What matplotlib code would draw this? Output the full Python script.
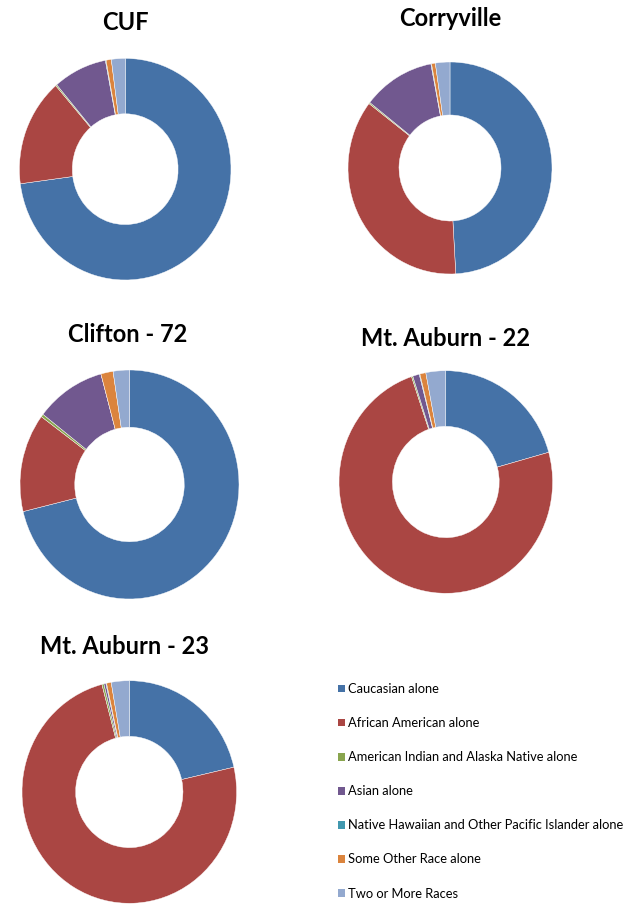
import matplotlib
matplotlib.use('Agg')
import matplotlib.pyplot as plt
from matplotlib.patches import Patch

# race categories (legend order)
races = ['Caucasian alone',
         'African American alone',
         'American Indian and Alaska Native alone',
         'Asian alone',
         'Native Hawaiian and Other Pacific Islander alone',
         'Some Other Race alone',
         'Two or More Races']
colors = ['#4572A7', '#AA4643', '#89A54E', '#71588F', '#4198AF', '#DB843D', '#93A9CF']

# percent share per area
cuf = [72.9, 15.7, 0.2, 8.2, 0.1, 0.8, 2.1]
corryville = [49.1, 36.3, 0.2, 11.4, 0.1, 0.6, 2.3]
clifton_72 = [71.2, 13.9, 0.4, 10.3, 0.0, 1.8, 2.4]
mt_auburn_22 = [20.7, 74.1, 0.2, 1.0, 0.1, 0.9, 3.0]
mt_auburn_23 = [21.4, 74.4, 0.3, 0.3, 0.1, 0.7, 2.7]

titles = ['CUF', 'Corryville', 'Clifton - 72', 'Mt. Auburn - 22', 'Mt. Auburn - 23']
series = [cuf, corryville, clifton_72, mt_auburn_22, mt_auburn_23]

W, H = 631, 906
fig = plt.figure(figsize=(W / 100, H / 100), dpi=100)

# donut centre x, y, half-width, half-height, title x, y (pixels from top-left)
# the original is slightly stretched vertically
layout = [(125.2, 169.2, 105.8, 110.8, 125, 23),
          (450, 168, 102, 106, 450, 18),
          (129.5, 484.5, 109.5, 114.5, 128, 335),
          (445.8, 482, 106.8, 111.3, 446, 338),
          (129.3, 792, 107.3, 111.3, 125, 647)]

for vals, title, (cx, cy, rx, ry, tx, ty) in zip(series, titles, layout):
    ax = fig.add_axes([(cx - rx) / W, (H - cy - ry) / H, 2 * rx / W, 2 * ry / H])
    ax.pie(vals, colors=colors, startangle=90, counterclock=False, radius=1,
           wedgeprops=dict(width=0.5, edgecolor='white', linewidth=0.3))
    ax.set_xlim(-1, 1)
    ax.set_ylim(-1, 1)
    ax.set_aspect('auto')
    ax.axis('off')
    fig.text(tx / W, 1 - ty / H, title, ha='center', va='center',
             fontsize=17, fontweight='bold', family='Lato')

handles = [Patch(facecolor=c, edgecolor='none') for c in colors]
fig.legend(handles, races, loc='upper left', bbox_to_anchor=(338 / W, 1 - 683 / H),
           frameon=False, prop={'family': 'Lato', 'size': 9.3},
           handlelength=0.56, handleheight=0.56, handletextpad=0.25,
           labelspacing=1.71, borderpad=0, borderaxespad=0)

fig.savefig('out.png', dpi=100)
